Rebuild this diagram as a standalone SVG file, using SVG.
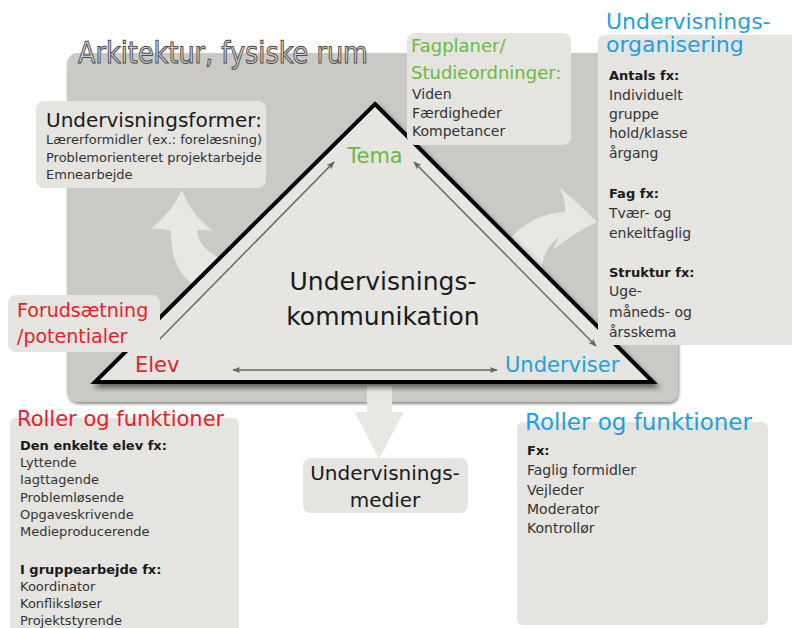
<svg xmlns="http://www.w3.org/2000/svg" width="792" height="628" viewBox="0 0 792 628">
  <defs>
    <style>
      text { font-family: "DejaVu Sans", "Liberation Sans", sans-serif; }
      .box { fill: #e5e4e1; }
      .body { font-size: 13px; fill: #333; }
      .body14 { font-size: 14px; fill: #333; }
      .bold { font-size: 13px; font-weight: bold; fill: #1a1a1a; }
      .head { font-size: 20px; fill: #1a1a1a; }
      .green { fill: #6cb941; }
      .red { fill: #ee1c25; }
      .blue { fill: #1ba1e2; }
      .link { stroke: #666; stroke-width: 1.5; fill: none; marker-start: url(#tip); marker-end: url(#tip); }
      .bigarrow { fill: #e8e7e4; }
    </style>
    <marker id="tip" viewBox="0 0 10 10" refX="9" refY="5" markerWidth="8" markerHeight="8" orient="auto-start-reverse" markerUnits="userSpaceOnUse">
      <path d="M0,1 L10,5 L0,9 L2,5 Z" fill="#666"/>
    </marker>
    <filter id="shadow" x="-10%" y="-10%" width="130%" height="130%">
      <feDropShadow dx="3" dy="4" stdDeviation="2.5" flood-color="#000" flood-opacity="0.5"/>
    </filter>
    <filter id="softshadow" x="-5%" y="-5%" width="110%" height="115%">
      <feDropShadow dx="1" dy="2" stdDeviation="1.5" flood-color="#000" flood-opacity="0.45"/>
    </filter>
  </defs>

  <rect width="792" height="628" fill="#ffffff"/>

  <!-- physical room backdrop -->
  <g id="arkitektur">
    <rect x="67" y="53" width="611" height="349" rx="10" fill="#cbc9c5" filter="url(#softshadow)"/>
    <text x="78" y="63" font-size="30" fill="#cfcdc9" stroke="#4a4a4a" stroke-width="1" text-rendering="geometricPrecision" textLength="290" lengthAdjust="spacingAndGlyphs">Arkitektur, fysiske rum</text>
  </g>

  <!-- broad arrows leading out of the triangle -->
  <g id="connectors">
    <path class="bigarrow" d="M182,190 Q190,213 213,231 Q201,229 197,231 Q199,250 226,261 L205,292 Q170,276 171,231 Q162,228 151,229 Q172,212 182,190 Z"/>
    <path class="bigarrow" d="M597,222 Q575,200 560,188 Q566,202 565,212 Q528,214 505,245 L540,278 Q543,247 559,237 Q556,242 553,250 Q575,232 597,222 Z"/>
    <path class="bigarrow" d="M367,386 L392,386 L392,412 L404,412 L379,459 L355,412 L367,412 Z"/>
  </g>

  <!-- didactic triangle -->
  <g id="triangle">
    <polygon points="375,104 653,382 95,382" fill="#e6e5e2" stroke="#000" stroke-width="4" stroke-linejoin="miter" filter="url(#shadow)"/>
    <line class="link" x1="153" y1="346" x2="334" y2="162"/>
    <line class="link" x1="414" y1="162" x2="596" y2="346"/>
    <line class="link" x1="233" y1="370" x2="497" y2="370"/>
    <text x="383" y="290" font-size="25" fill="#1a1a1a" text-anchor="middle">Undervisnings-</text>
    <text x="383" y="325" font-size="25" fill="#1a1a1a" text-anchor="middle">kommunikation</text>
  </g>

  <g id="tema">
    <text x="375" y="163" font-size="21" class="green" text-anchor="middle">Tema</text>
  </g>
  <g id="elev">
    <text x="135" y="372" font-size="21" class="red">Elev</text>
  </g>
  <g id="underviser">
    <text x="505" y="372" font-size="21" class="blue">Underviser</text>
  </g>

  <!-- teaching forms -->
  <g id="undervisningsformer">
    <rect class="box" x="36" y="101" width="230" height="87" rx="8"/>
    <text x="46" y="127" class="head">Undervisningsformer:</text>
    <text x="46" y="144" class="body" textLength="216" lengthAdjust="spacingAndGlyphs">Lærerformidler (ex.: forelæsning)</text>
    <text x="46" y="162" class="body" textLength="216" lengthAdjust="spacingAndGlyphs">Problemorienteret projektarbejde</text>
    <text x="46" y="179" class="body">Emnearbejde</text>
  </g>

  <!-- curricula -->
  <g id="fagplaner">
    <rect class="box" x="407" y="33" width="164" height="112" rx="8"/>
    <text x="411" y="52" font-size="18" class="green">Fagplaner/</text>
    <text x="411" y="79" font-size="18" class="green">Studieordninger:</text>
    <text x="412" y="99" class="body14">Viden</text>
    <text x="412" y="118" class="body14">Færdigheder</text>
    <text x="412" y="136" class="body14">Kompetancer</text>
  </g>

  <!-- organisation of teaching -->
  <g id="organisering">
    <rect class="box" x="598" y="35" width="204" height="310" rx="6"/>
    <text x="606" y="29" font-size="22" class="blue">Undervisnings-</text>
    <text x="606" y="52" font-size="22" class="blue">organisering</text>
    <text x="609" y="80" class="bold">Antals fx:</text>
    <text x="609" y="100" class="body14">Individuelt</text>
    <text x="609" y="119" class="body14">gruppe</text>
    <text x="609" y="138" class="body14">hold/klasse</text>
    <text x="609" y="158" class="body14">årgang</text>
    <text x="609" y="198" class="bold">Fag fx:</text>
    <text x="609" y="218" class="body14">Tvær- og</text>
    <text x="609" y="238" class="body14">enkeltfaglig</text>
    <text x="609" y="277" class="bold">Struktur fx:</text>
    <text x="609" y="296" class="body14">Uge-</text>
    <text x="609" y="317" class="body14">måneds- og</text>
    <text x="609" y="337" class="body14">årsskema</text>
  </g>

  <!-- prerequisites -->
  <g id="forudsaetning">
    <rect class="box" x="8" y="295" width="152" height="57" rx="8"/>
    <text x="17" y="317" font-size="19" class="red">Forudsætning</text>
    <text x="17" y="343" font-size="19" class="red">/potentialer</text>
  </g>

  <!-- student roles -->
  <g id="roller-elev">
    <rect class="box" x="10" y="418" width="229" height="220" rx="6"/>
    <text x="17" y="426" font-size="21" class="red">Roller og funktioner</text>
    <text x="20" y="450" class="bold">Den enkelte elev fx:</text>
    <text x="20" y="467" class="body">Lyttende</text>
    <text x="20" y="484" class="body">Iagttagende</text>
    <text x="20" y="502" class="body">Problemløsende</text>
    <text x="20" y="519" class="body">Opgaveskrivende</text>
    <text x="20" y="536" class="body">Medieproducerende</text>
    <text x="20" y="574" class="bold">I gruppearbejde fx:</text>
    <text x="20" y="591" class="body">Koordinator</text>
    <text x="20" y="608" class="body">Konfliksløser</text>
    <text x="20" y="625" class="body">Projektstyrende</text>
  </g>

  <!-- media -->
  <g id="medier">
    <rect class="box" x="303" y="458" width="165" height="55" rx="8"/>
    <text x="385" y="480" font-size="20" fill="#1a1a1a" text-anchor="middle">Undervisnings-</text>
    <text x="385" y="507" font-size="20" fill="#1a1a1a" text-anchor="middle">medier</text>
  </g>

  <!-- teacher roles -->
  <g id="roller-underviser">
    <rect class="box" x="517" y="422" width="251" height="203" rx="6"/>
    <text x="525" y="430" font-size="23" class="blue">Roller og funktioner</text>
    <text x="527" y="455" class="bold">Fx:</text>
    <text x="527" y="475" class="body14">Faglig formidler</text>
    <text x="527" y="495" class="body14">Vejleder</text>
    <text x="527" y="514" class="body14">Moderator</text>
    <text x="527" y="533" class="body14">Kontrollør</text>
  </g>
</svg>
